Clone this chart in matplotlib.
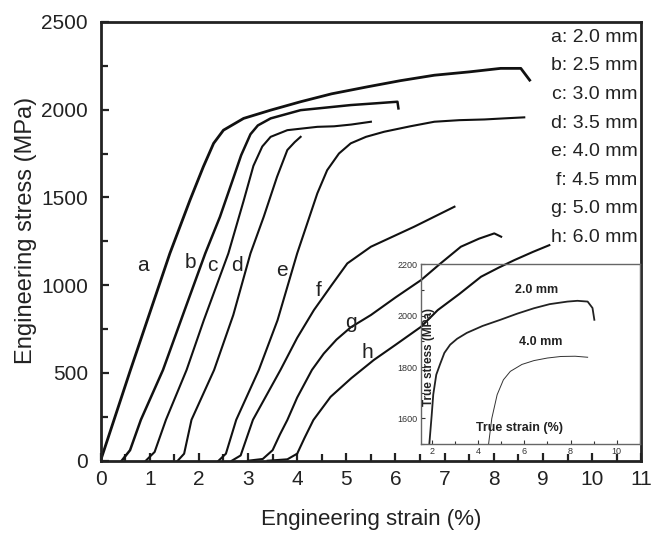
import matplotlib
matplotlib.use("Agg")
import matplotlib.pyplot as plt
from matplotlib.ticker import MultipleLocator

plt.rcParams['font.family'] = ['Liberation Sans', 'DejaVu Sans']

# ---- main chart data (engineering strain %, engineering stress MPa) ----
a_x = [0, 0.6, 1.41, 1.82, 2.09, 2.3, 2.5, 2.91, 3.46, 4.07, 4.7, 5.43, 6.1, 6.79, 7.5, 8.14, 8.55, 8.73]
a_y = [0, 510, 1181, 1485, 1674, 1808, 1883, 1950, 1997, 2045, 2090, 2130, 2165, 2196, 2215, 2235, 2235, 2168]
b_x = [0.43, 0.6, 0.82, 1.27, 1.7, 2.13, 2.43, 2.71, 2.86, 3.05, 3.2, 3.46, 4.07, 4.6, 5.09, 5.6, 6.04, 6.06]
b_y = [0, 60, 233, 517, 850, 1181, 1390, 1617, 1740, 1860, 1910, 1950, 1997, 2012, 2026, 2036, 2045, 2007]
c_x = [0.92, 1.1, 1.33, 1.75, 2.1, 2.6, 2.91, 3.11, 3.29, 3.46, 3.8, 4.41, 4.75, 5.1, 5.5]
c_y = [0, 50, 233, 517, 800, 1181, 1480, 1680, 1790, 1845, 1883, 1902, 1905, 1915, 1931]
d_x = [1.57, 1.7, 1.85, 2.31, 2.7, 3.05, 3.32, 3.59, 3.8, 3.95, 4.07]
d_y = [0, 40, 233, 517, 830, 1181, 1390, 1617, 1770, 1815, 1845]
e_x = [2.4, 2.55, 2.76, 3.22, 3.6, 4.0, 4.41, 4.61, 4.85, 5.09, 5.4, 5.77, 6.3, 6.79, 7.3, 7.81, 8.2, 8.62]
e_y = [0, 40, 233, 517, 800, 1181, 1523, 1655, 1750, 1808, 1845, 1874, 1905, 1931, 1940, 1944, 1950, 1956]
f_x = [2.67, 2.85, 3.1, 3.66, 4.0, 4.34, 4.7, 5.02, 5.5, 6.38, 7.2]
f_y = [0, 30, 233, 517, 700, 858, 1000, 1124, 1219, 1333, 1447]
g_x = [3.0, 3.3, 3.5, 3.65, 3.8, 4.0, 4.3, 4.54, 4.8, 5.09, 5.5, 6.0, 6.52, 6.9, 7.33, 7.7, 8.01, 8.15]
g_y = [0, 10, 60, 150, 232, 360, 517, 610, 690, 760, 830, 930, 1029, 1120, 1219, 1265, 1295, 1276]
h_x = [3.4, 3.8, 4.0, 4.15, 4.33, 4.68, 5.1, 5.56, 6.0, 6.52, 6.86, 7.3, 7.74, 8.1, 8.42, 8.8, 9.13]
h_y = [0, 8, 40, 130, 232, 364, 470, 574, 660, 763, 858, 950, 1048, 1100, 1143, 1190, 1228]

curve_letters = ['a', 'b', 'c', 'd', 'e', 'f', 'g', 'h']
curve_x = [a_x, b_x, c_x, d_x, e_x, f_x, g_x, h_x]
curve_y = [a_y, b_y, c_y, d_y, e_y, f_y, g_y, h_y]
thicknesses = ['2.0', '2.5', '3.0', '3.5', '4.0', '4.5', '5.0', '6.0']
label_x = [0.86, 1.82, 2.27, 2.77, 3.7, 4.44, 5.09, 5.43]
label_y = [1113, 1130, 1113, 1113, 1085, 972, 785, 615]

x_ticks = list(range(0, 12))
y_ticks = [0, 500, 1000, 1500, 2000, 2500]

# ---- inset data (true strain %, true stress MPa) ----
t20_x = [1.9, 2.0, 2.07, 2.2, 2.36, 2.55, 2.8, 3.1, 3.52, 4.2, 4.97, 5.7, 6.42, 7.1, 7.87, 8.3, 8.74, 8.95, 9.03]
t20_y = [1500, 1610, 1693, 1770, 1810, 1855, 1887, 1910, 1933, 1960, 1984, 2008, 2029, 2045, 2055, 2058, 2055, 2030, 1984]
t40_x = [4.46, 4.6, 4.83, 5.1, 5.4, 5.9, 6.42, 7.0, 7.58, 8.2, 8.74]
t40_y = [1500, 1600, 1692, 1750, 1783, 1810, 1825, 1835, 1841, 1842, 1838]
inset_x_ticks = [2, 4, 6, 8, 10]
inset_y_ticks = [1600, 1800, 2000, 2200]

fig = plt.figure(figsize=(6.53, 5.33), dpi=100)
ax = fig.add_axes([0.154, 0.1356, 0.828, 0.8234])

widths = [2.0, 1.8, 1.5, 1.5, 1.5, 1.5, 1.5, 1.5]
for xs, ys, lw in zip(curve_x, curve_y, widths):
    ax.plot(xs, ys, color='#111111', lw=lw, solid_joinstyle='round')
for L, lx, ly in zip(curve_letters, label_x, label_y):
    ax.text(lx, ly, L, fontsize=15, ha='center', va='center', color='#222222')

ax.set_xlim(0, 11)
ax.set_ylim(0, 2500)
ax.set_xticks(x_ticks)
ax.set_yticks(y_ticks)
ax.xaxis.set_minor_locator(MultipleLocator(0.5))
ax.yaxis.set_minor_locator(MultipleLocator(250))
ax.tick_params(which='both', direction='in', width=1.6, labelsize=15, colors='#222222')
ax.tick_params(which='major', length=6, pad=7)
ax.tick_params(which='minor', length=5)
ax.tick_params(axis='y', pad=9)
for s in ax.spines.values():
    s.set_linewidth(2.0)
    s.set_color('#222222')
ax.set_xlabel('Engineering strain (%)', fontsize=16, labelpad=14, color='#222222')
ax.set_ylabel('Engineering stress (MPa)', fontsize=17, color='#222222')
ax.yaxis.set_label_coords(-0.118, 0.525)

# legend text
for i, (L, t) in enumerate(zip(curve_letters, thicknesses)):
    ax.text(0.993, 0.965 - i * 0.0652, f'{L}: {t} mm', transform=ax.transAxes,
            fontsize=14, ha='right', va='center', color='#222222')

# ---- inset ----
ins = fig.add_axes([0.644, 0.167, 0.336, 0.337], facecolor='none')
ins.plot(t20_x, t20_y, color='#222222', lw=1.3)
ins.plot(t40_x, t40_y, color='#333333', lw=0.7)
ins.set_xlim(1.52, 11.0)
ins.set_ylim(1500, 2200)
ins.set_xticks(inset_x_ticks)
ins.set_yticks(inset_y_ticks)
ins.xaxis.set_minor_locator(MultipleLocator(1))
ins.yaxis.set_minor_locator(MultipleLocator(100))
ins.tick_params(which='both', direction='in', labelsize=6.5, width=0.8, colors='#333333')
ins.tick_params(which='major', length=3, pad=2)
ins.tick_params(which='minor', length=2)
for s in ins.spines.values():
    s.set_linewidth(1.0)
    s.set_color('#666666')
ins.text(0.04, 0.484, 'True stress (MPa)', transform=ins.transAxes, rotation=90,
         fontsize=8.5, fontweight='bold', ha='center', va='center', color='#222222')
ins.text(0.453, 0.09, 'True strain (%)', transform=ins.transAxes,
         fontsize=9, fontweight='bold', ha='center', va='center', color='#222222')
ins.text(0.529, 0.857, '2.0 mm', transform=ins.transAxes,
         fontsize=9, fontweight='bold', ha='center', va='center', color='#222222')
ins.text(0.547, 0.566, '4.0 mm', transform=ins.transAxes,
         fontsize=9, fontweight='bold', ha='center', va='center', color='#222222')

fig.savefig('out.png', dpi=100)
